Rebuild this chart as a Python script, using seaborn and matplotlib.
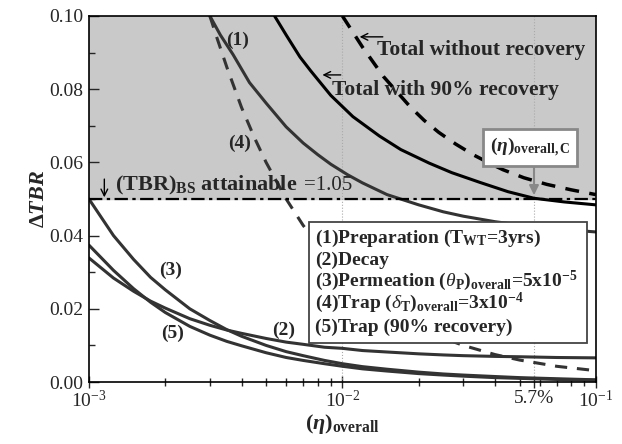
import numpy as np
import pandas as pd
import matplotlib
matplotlib.use('Agg')
import matplotlib.pyplot as plt
from matplotlib.patches import Rectangle
from matplotlib.ticker import FixedLocator, FixedFormatter, LogLocator, NullFormatter, MultipleLocator, FormatStrFormatter
import seaborn as sns

# values
eta = [0.001, 0.00125, 0.0015, 0.00175, 0.002, 0.0025, 0.003, 0.0035, 0.004, 0.005, 0.006, 0.007,
       0.0085, 0.01, 0.012, 0.015, 0.02, 0.025, 0.03, 0.04, 0.05, 0.07, 0.1]
perm = [0.050, 0.040, 0.0335, 0.0286, 0.0252, 0.0200, 0.0168, 0.0143, 0.0125, 0.0100, 0.0083, 0.0072,
        0.0059, 0.0050, 0.0042, 0.0035, 0.0027, 0.0022, 0.0019, 0.0015, 0.0012, 0.0009, 0.0006]
decay = [0.0339, 0.0284, 0.0248, 0.0221, 0.0202, 0.0173, 0.0155, 0.0142, 0.0133, 0.0119, 0.0109, 0.0103,
         0.0095, 0.0092, 0.0086, 0.0082, 0.0077, 0.0074, 0.0072, 0.0070, 0.0069, 0.0067, 0.0066]
trap90 = [0.0374, 0.0305, 0.0255, 0.0218, 0.0190, 0.0152, 0.0128, 0.0111, 0.0099, 0.0080, 0.0067, 0.0059,
          0.0050, 0.0043, 0.0036, 0.0030, 0.0023, 0.0019, 0.0016, 0.0012, 0.0010, 0.0007, 0.0005]

eta_trap = [0.003, 0.0032, 0.0035, 0.004, 0.0045, 0.005, 0.006, 0.007, 0.0085, 0.01, 0.012, 0.015,
            0.02, 0.025, 0.03, 0.04, 0.05, 0.07, 0.1]
trap = [0.100, 0.094, 0.086, 0.075, 0.0667, 0.060, 0.050, 0.0428, 0.0353, 0.030, 0.025, 0.020,
        0.015, 0.012, 0.010, 0.0075, 0.006, 0.0043, 0.0031]

eta_prep = [0.003, 0.0033, 0.0037, 0.0043, 0.005, 0.006, 0.007, 0.008, 0.009, 0.0105, 0.012, 0.015,
            0.02, 0.025, 0.03, 0.04, 0.05, 0.07, 0.1]
prep = [0.100, 0.0948, 0.0895, 0.0818, 0.0762, 0.0697, 0.0653, 0.0621, 0.0595, 0.0566, 0.0544, 0.0512,
        0.0484, 0.0465, 0.0453, 0.0438, 0.0429, 0.0418, 0.041]

eta_with = [0.0054, 0.006, 0.0068, 0.0075, 0.009, 0.011, 0.014, 0.017, 0.022, 0.027, 0.035, 0.045, 0.057, 0.075, 0.1]
total_with = [0.100, 0.0948, 0.0888, 0.0850, 0.0783, 0.0725, 0.0672, 0.0635, 0.0598, 0.0572, 0.0545, 0.0520, 0.0502,
              0.0492, 0.0484]

eta_without = [0.0100, 0.012, 0.0145, 0.0185, 0.021, 0.024, 0.028, 0.033, 0.038, 0.043, 0.052, 0.064, 0.08, 0.1]
total_without = [0.100, 0.0915, 0.0835, 0.0752, 0.0715, 0.0682, 0.0650, 0.0620, 0.0598, 0.0580, 0.0558, 0.0540,
                 0.0525, 0.0512]

tbr_limit = 0.05
eta_c = 0.057

legend_lines = [
    r'(1)Preparation (T$_{\mathbf{WT}}$=3yrs)',
    '(2)Decay',
    r'(3)Permeation ($\mathit{\theta}_{\mathbf{P}}$)$_{\mathbf{overall}}$=5x10$^{\mathbf{-5}}$',
    r'(4)Trap ($\mathit{\delta}_{\mathbf{T}}$)$_{\mathbf{overall}}$=3x10$^{\mathbf{-4}}$',
    '(5)Trap (90% recovery)',
]

sns.set_theme(style='ticks')
plt.rcParams['font.family'] = ['Liberation Serif', 'DejaVu Serif']
plt.rcParams['mathtext.fontset'] = 'custom'
plt.rcParams['mathtext.rm'] = 'Liberation Serif'
plt.rcParams['mathtext.it'] = 'Liberation Serif:italic'
plt.rcParams['mathtext.bf'] = 'Liberation Serif:bold'
plt.rcParams['mathtext.bfit'] = 'Liberation Serif:bold:italic'

fig = plt.figure(figsize=(6.22, 4.44), dpi=100)
ax = fig.add_axes([0.143, 0.1396, 0.815, 0.8244])

ax.axhspan(tbr_limit, 0.1, color='#c9c9c9', zorder=0)
for xv in [0.01, eta_c]:
    ax.axvline(xv, color='#aaaaaa', lw=0.8, ls=':', zorder=1)

gray = '#333333'
sns.lineplot(x=eta_prep, y=prep, ax=ax, color=gray, lw=2.2, estimator=None, sort=False)
sns.lineplot(x=eta, y=decay, ax=ax, color=gray, lw=2.2, estimator=None, sort=False)
sns.lineplot(x=eta, y=perm, ax=ax, color=gray, lw=2.2, estimator=None, sort=False)
sns.lineplot(x=eta, y=trap90, ax=ax, color=gray, lw=2.2, estimator=None, sort=False)
l4 = sns.lineplot(x=eta_trap, y=trap, ax=ax, color=gray, lw=2.2, estimator=None, sort=False).lines[-1]
l4.set_dashes([4, 3.2])
sns.lineplot(x=eta_with, y=total_with, ax=ax, color='black', lw=2.2, estimator=None, sort=False)
lwo = sns.lineplot(x=eta_without, y=total_without, ax=ax, color='black', lw=2.5, estimator=None, sort=False).lines[-1]
lwo.set_dashes([4, 3])

ax.axhline(tbr_limit, color='black', lw=1.6, dashes=[6, 2, 1.5, 2], zorder=4)

ax.set_xscale('log')
ax.set_xlim(1e-3, 1e-1)
ax.set_ylim(0, 0.1)
ax.xaxis.set_major_locator(FixedLocator([1e-3, 1e-2, eta_c, 1e-1]))
ax.xaxis.set_major_formatter(FixedFormatter([r'$10^{-3}$', r'$10^{-2}$', '5.7%', r'$10^{-1}$']))
ax.xaxis.set_minor_locator(LogLocator(base=10, subs=np.arange(2, 10)))
ax.xaxis.set_minor_formatter(NullFormatter())
ax.yaxis.set_major_locator(MultipleLocator(0.02))
ax.yaxis.set_minor_locator(MultipleLocator(0.01))
ax.yaxis.set_major_formatter(FormatStrFormatter('%.2f'))
ax.tick_params(axis='x', which='major', direction='inout', length=8, width=1, labelsize=14, pad=2)
ax.tick_params(axis='x', which='minor', direction='inout', length=6, width=1)
ax.tick_params(axis='y', which='major', direction='in', length=7, width=1, labelsize=14, pad=4)
ax.tick_params(axis='y', which='minor', direction='in', length=4, width=1)
for s in ax.spines.values():
    s.set_linewidth(1.2)
    s.set_color('black')

ax.set_ylabel(r'$\mathbf{\Delta}\mathbfit{TBR}$', fontsize=16, labelpad=0)
ax.set_xlabel(r'$\mathbf{(}\mathbfit{\eta}\mathbf{)_{overall}}$', fontsize=16, labelpad=0)

lab = dict(fontsize=14, fontweight='bold', ha='center', va='center')
ax.text(0.00387, 0.0934, '(1)', **lab)
ax.text(0.00394, 0.0653, '(4)', **lab)
ax.text(0.00209, 0.0306, '(3)', **lab)
ax.text(0.00213, 0.0134, '(5)', **lab)
ax.text(0.00588, 0.0142, '(2)', **lab)

ax.text(0.0137, 0.0907, 'Total without recovery', fontsize=15.5, fontweight='bold', va='center')
ax.annotate('', xy=(0.0114, 0.0943), xytext=(0.0148, 0.0943),
            arrowprops=dict(arrowstyle='->', color='black', lw=1))
ax.text(0.0091, 0.0798, 'Total with 90% recovery', fontsize=15.5, fontweight='bold', va='center')
ax.annotate('', xy=(0.00813, 0.0839), xytext=(0.0101, 0.0839),
            arrowprops=dict(arrowstyle='->', color='black', lw=1))

ax.text(0.00127, 0.0538, r'(TBR)$_{\mathbf{BS}}$ attainable', fontsize=16, fontweight='bold', va='center')
ax.text(0.00708, 0.0538, '=1.05', fontsize=15, va='center')
ax.annotate('', xy=(0.00115, 0.0497), xytext=(0.00115, 0.0562),
            arrowprops=dict(arrowstyle='->', color='black', lw=1))

ax.text(0.0549, 0.0642, r'$\mathbf{(}\mathbfit{\eta}\mathbf{)_{overall,C}}$', fontsize=14, ha='center', va='center',
        bbox=dict(boxstyle='square,pad=0.35', fc='white', ec='#888888', lw=2))
ax.annotate('', xy=(eta_c, 0.0503), xytext=(eta_c, 0.0593),
            arrowprops=dict(arrowstyle='-|>', color='#888888', lw=1.5, mutation_scale=14))

ax.add_patch(Rectangle((0.434, 0.1066), 0.548, 0.3304, transform=ax.transAxes,
                       fc='white', ec='#444444', lw=1.3, zorder=5))
ys = [0.393, 0.333, 0.276, 0.216, 0.150]
for yy, txt in zip(ys, legend_lines):
    ax.text(0.446, yy, txt, transform=ax.transAxes, fontsize=14, fontweight='bold',
            va='center', ha='left', zorder=6)

fig.savefig('out.png', dpi=100)
